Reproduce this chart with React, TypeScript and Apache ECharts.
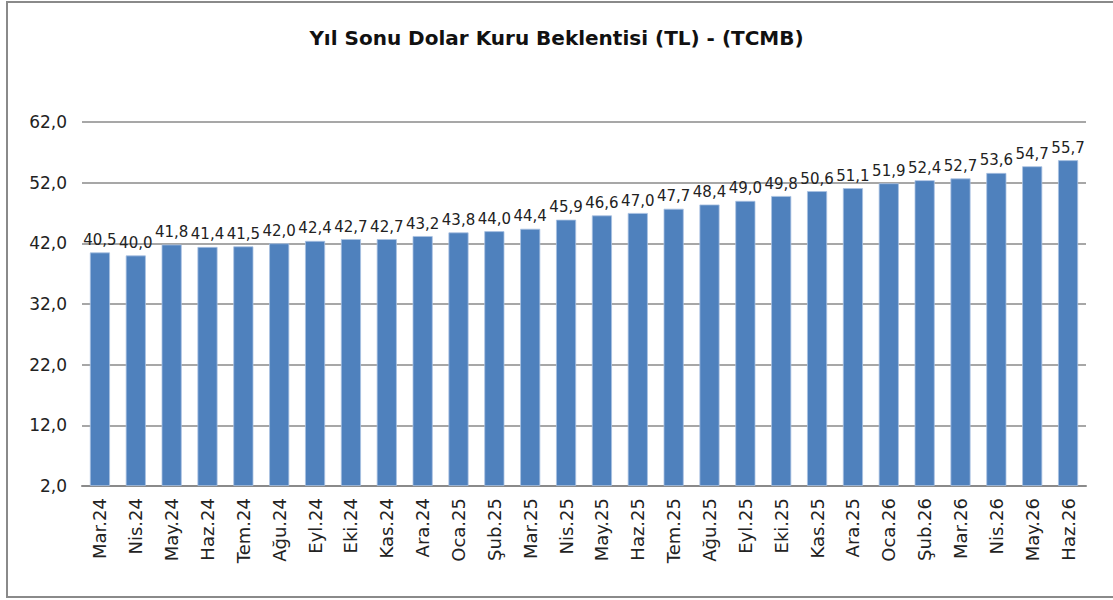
import React, { useEffect, useRef } from "react";
import * as echarts from "echarts";

const TITLE = "Yıl Sonu Dolar Kuru Beklentisi (TL) - (TCMB)";
const categories = [
  "Mar.24", "Nis.24", "May.24", "Haz.24", "Tem.24", "Ağu.24", "Eyl.24", "Eki.24",
  "Kas.24", "Ara.24", "Oca.25", "Şub.25", "Mar.25", "Nis.25", "May.25", "Haz.25",
  "Tem.25", "Ağu.25", "Eyl.25", "Eki.25", "Kas.25", "Ara.25", "Oca.26", "Şub.26",
  "Mar.26", "Nis.26", "May.26", "Haz.26",
];
const values = [
  40.5, 40.0, 41.8, 41.4, 41.5, 42.0, 42.4, 42.7, 42.7, 43.2, 43.8, 44.0, 44.4, 45.9,
  46.6, 47.0, 47.7, 48.4, 49.0, 49.8, 50.6, 51.1, 51.9, 52.4, 52.7, 53.6, 54.7, 55.7,
];
const AXIS_MIN = 2;
const AXIS_MAX = 62;
const AXIS_STEP = 10;

const fmt = (v: number) => v.toFixed(1).replace(".", ",");
const FONT = "DejaVu Sans";

export default function App() {
  const ref = useRef<HTMLDivElement>(null);
  useEffect(() => {
    if (!ref.current) return;
    const chart = echarts.init(ref.current, undefined, { renderer: "svg" });
    chart.setOption({
      animation: false,
      backgroundColor: "#ffffff",
      textStyle: { fontFamily: FONT },
      title: {
        text: TITLE,
        left: "center",
        top: 23,
        textStyle: { fontFamily: FONT, fontSize: 20, fontWeight: "bold", color: "#111" },
      },
      graphic: [
        {
          type: "rect",
          shape: { x: 7, y: 2, width: 1120, height: 595 },
          style: { fill: "none", stroke: "#8a8a8a", lineWidth: 2 },
          silent: true,
        },
      ],
      grid: { left: 82, right: 27, top: 122, bottom: 114 },
      xAxis: {
        type: "category",
        data: categories,
        axisLine: { lineStyle: { color: "#8a8a8a", width: 2 } },
        axisTick: { show: false },
        axisLabel: {
          rotate: 90,
          interval: 0,
          margin: 12,
          fontSize: 18,
          color: "#222",
          fontFamily: FONT,
        },
      },
      yAxis: {
        type: "value",
        min: 0,
        max: AXIS_MAX - AXIS_MIN,
        interval: AXIS_STEP,
        axisLine: { show: false },
        axisTick: { show: false },
        axisLabel: {
          margin: 15,
          fontSize: 17,
          color: "#222",
          fontFamily: FONT,
          formatter: (v: number) => fmt(v + AXIS_MIN),
        },
        splitLine: { lineStyle: { color: "#8a8a8a", width: 1.5 } },
      },
      series: [
        {
          type: "bar",
          data: values.map((v) => v - AXIS_MIN),
          barCategoryGap: "44%",
          itemStyle: { color: "#4F81BD", borderColor: "#a9c1e2", borderWidth: 0.8 },
          label: {
            show: true,
            position: "top",
            distance: 5,
            fontSize: 15,
            color: "#222",
            fontFamily: FONT,
            formatter: (p: any) => fmt(values[p.dataIndex]),
          },
        },
      ],
    });
    return () => chart.dispose();
  }, []);
  return (
    <div
      ref={ref}
      style={{ position: "fixed", left: 0, top: 0, width: 1113, height: 600 }}
    />
  );
}
